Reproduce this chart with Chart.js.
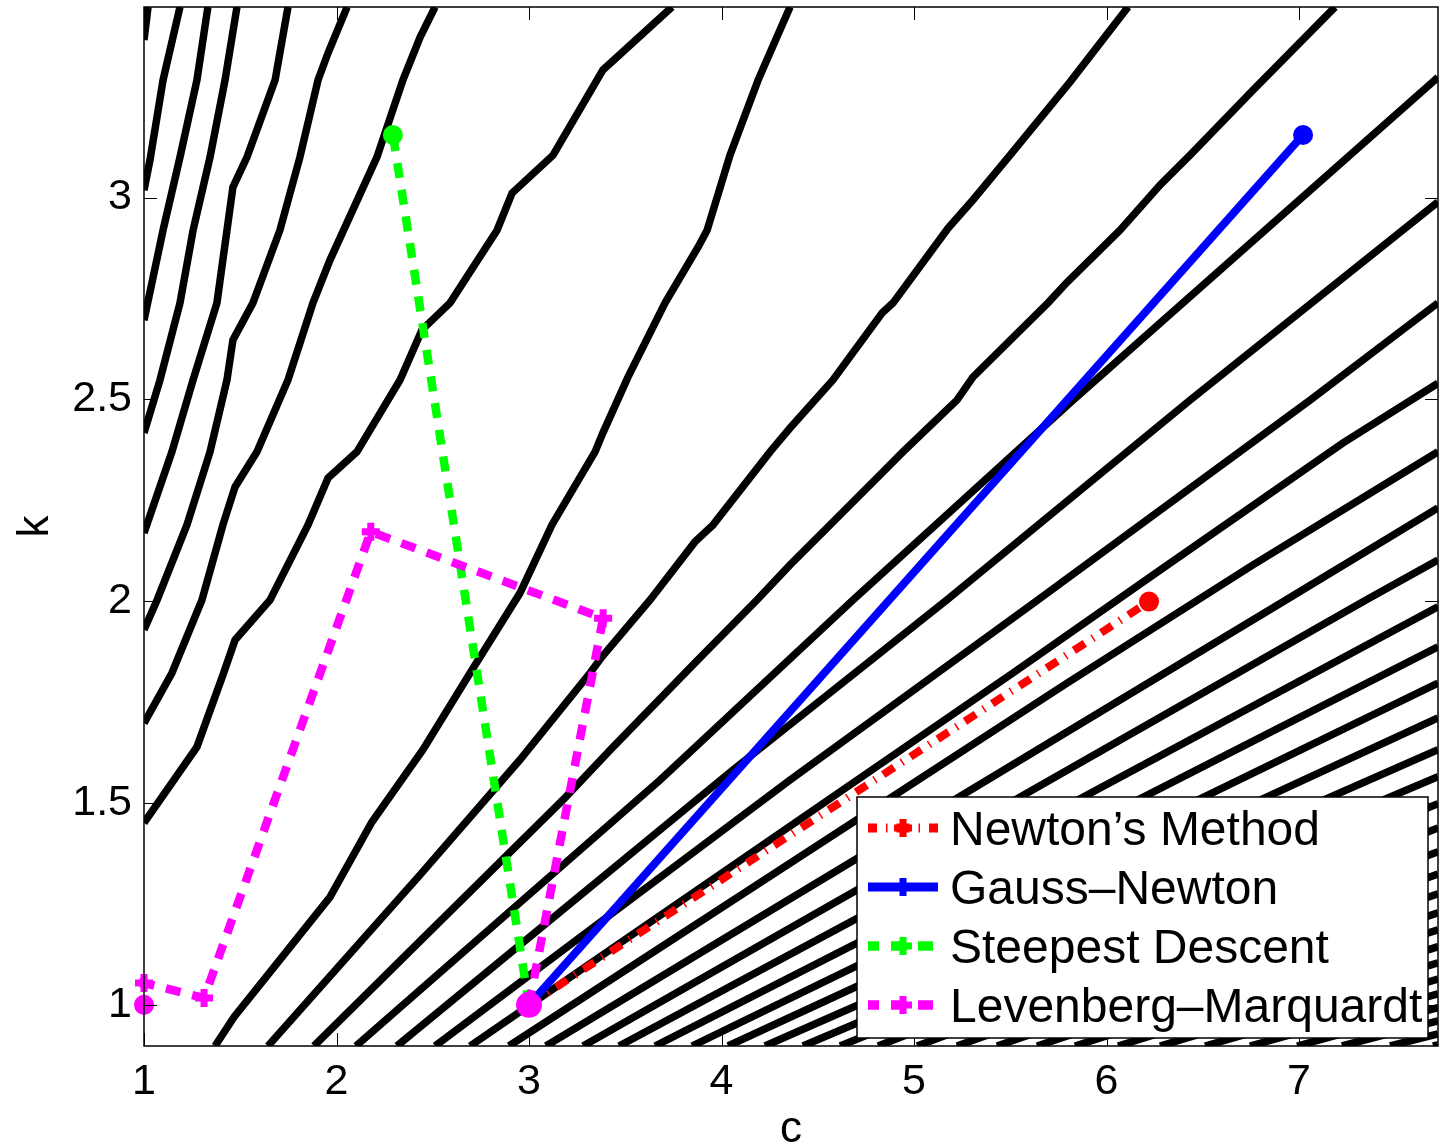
<!DOCTYPE html>
<html>
<head>
<meta charset="utf-8">
<title>Newton, Gauss-Newton, Steepest Descent and Levenberg-Marquardt paths</title>
<script src="https://cdn.jsdelivr.net/npm/chart.js@4.4.0/dist/chart.umd.min.js"></script>
<style>
  html, body { margin: 0; padding: 0; background: #fff; }
  #wrap { width: 1441px; height: 1146px; }
</style>
</head>
<body>
<div id="wrap"><canvas id="plot" width="1441" height="1146"></canvas></div>
<script>
// axis limits and tick values
const cRange = [1, 7.722];
const kRange = [0.898, 3.472];
const cTicks = [1, 2, 3, 4, 5, 6, 7];
const kTicks = [1, 1.5, 2, 2.5, 3];

// contour lines of the objective as [c, k]
const contourLines = [
  [[1.021, 3.472], [1.0, 3.390]],
  [[1.187, 3.472], [1.099, 3.291], [1.031, 3.093], [1.0, 3.018]],
  [[1.332, 3.472], [1.275, 3.291], [1.187, 3.100], [1.099, 2.919], [1.0, 2.696]],
  [[1.483, 3.472], [1.421, 3.291], [1.343, 3.100], [1.255, 2.919], [1.187, 2.739], [1.083, 2.548], [1.0, 2.417]],
  [[1.748, 3.472], [1.681, 3.291], [1.535, 3.100], [1.462, 3.026], [1.379, 2.739], [1.255, 2.548], [1.145, 2.370], [1.0, 2.169]],
  [[2.055, 3.472], [1.956, 3.358], [1.904, 3.291], [1.810, 3.100], [1.706, 2.919], [1.566, 2.739], [1.462, 2.647],
   [1.431, 2.548], [1.343, 2.370], [1.223, 2.189], [1.068, 2.003], [1.0, 1.929]],
  [[2.512, 3.472], [2.434, 3.397], [2.345, 3.291], [2.210, 3.100], [1.966, 2.845], [1.878, 2.739], [1.748, 2.548],
   [1.587, 2.370], [1.473, 2.283], [1.410, 2.189], [1.301, 2.003], [1.145, 1.822], [1.0, 1.698]],
  [[3.743, 3.472], [3.384, 3.316], [3.125, 3.105], [2.912, 3.011], [2.834, 2.919], [2.590, 2.739], [2.444, 2.672],
   [2.330, 2.548], [2.106, 2.370], [1.956, 2.305], [1.852, 2.189], [1.655, 2.003], [1.473, 1.904], [1.410, 1.817],
   [1.275, 1.639], [1.0, 1.451]],
  [[4.356, 3.472], [4.190, 3.291], [4.044, 3.105], [3.925, 2.919], [3.878, 2.877], [3.707, 2.739], [3.514, 2.555],
   [3.384, 2.417], [3.343, 2.370], [3.119, 2.189], [2.953, 2.020], [2.694, 1.822], [2.449, 1.632], [2.184, 1.453],
   [1.966, 1.267], [1.665, 1.087], [1.468, 0.970], [1.369, 0.898]],
  [[6.112, 3.472], [5.810, 3.286], [5.499, 3.105], [5.306, 2.994], [5.177, 2.924], [4.891, 2.739], [4.834, 2.714],
   [4.579, 2.548], [4.356, 2.429], [4.252, 2.370], [3.956, 2.189], [3.862, 2.147], [3.629, 2.003], [3.379, 1.862],
   [3.317, 1.822], [2.953, 1.607], [2.434, 1.322], [1.644, 0.898]],
  [[7.187, 3.472], [6.761, 3.266], [6.434, 3.105], [6.278, 3.031], [6.070, 2.919], [5.795, 2.790], [5.696, 2.739],
   [5.306, 2.555], [5.223, 2.498], [4.943, 2.370], [4.834, 2.318], [4.564, 2.189], [4.356, 2.090], [4.184, 2.003],
   [3.862, 1.847], [3.800, 1.817], [3.431, 1.636], [3.177, 1.508], [1.883, 0.898]],
  [[7.722, 3.298], [5.826, 2.498], [4.683, 2.003], [3.681, 1.557], [2.101, 0.898]],
  [[7.722, 2.989], [6.434, 2.498], [5.171, 2.003], [4.060, 1.582], [2.314, 0.898]],
  [[7.722, 2.739], [7.057, 2.498], [5.629, 1.998], [4.356, 1.557], [2.512, 0.898]],
  [[7.722, 2.540], [7.229, 2.392], [6.278, 2.077], [5.514, 1.822], [2.694, 0.898]],
  [[7.722, 2.370], [6.761, 2.090], [5.795, 1.797], [2.896, 0.898]],
  [[7.722, 2.231], [6.932, 2.003], [3.088, 0.898]],
  [[7.722, 2.102], [7.348, 2.003], [3.281, 0.898]],
  [[7.722, 1.986], [3.468, 0.898]],
  [[7.722, 1.887], [3.655, 0.898]],
  [[7.722, 1.797], [3.847, 0.898]],
  [[7.722, 1.711], [4.034, 0.898]],
  [[7.722, 1.632], [4.226, 0.898]],
  [[7.722, 1.565], [4.423, 0.898]],
  [[7.722, 1.498], [4.616, 0.898]],
  [[7.722, 1.438], [4.813, 0.898]],
  [[7.722, 1.379], [5.016, 0.898]],
  [[7.722, 1.324], [5.223, 0.898]],
  [[7.722, 1.275], [5.431, 0.898]],
  [[7.722, 1.228], [5.639, 0.898]],
  [[7.722, 1.186], [5.836, 0.898]],
  [[7.722, 1.144], [6.060, 0.898]],
  [[7.722, 1.104], [6.278, 0.898]],
  [[7.722, 1.064], [6.512, 0.898]],
  [[7.722, 1.027], [6.745, 0.898]],
  [[7.722, 0.993], [6.990, 0.898]],
  [[7.722, 0.960], [7.223, 0.898]],
  [[7.722, 0.928], [7.473, 0.898]],
  [[7.722, 0.901], [7.696, 0.898]]
];

// iterates of each method, all starting from (3, 1)
const startPoint = [[3.0, 1.0]];
const newtonPath = [[3.0, 1.0], [6.221, 1.999]];
const gaussNewtonPath = [[3.0, 1.0], [7.021, 3.155]];
const steepestPath = [[3.0, 1.0], [2.293, 3.155]];
const lmPath = [[3.0, 1.0], [3.385, 1.958], [2.178, 2.172], [1.312, 1.017], [1.0, 1.054], [1.0, 1.0]];

const methodNames = ['Newton’s Method', 'Gauss–Newton', 'Steepest Descent', 'Levenberg–Marquardt'];

const FONT = '"Liberation Sans", Arial, Helvetica, sans-serif';

function toXY(pts) {
  return pts.map(p => ({ x: p[0], y: p[1] }));
}

// markers: '+' at the iterates, filled circle at the last one, nothing at the start
function pathDataset(label, pts, color, dash, width) {
  const last = pts.length - 1;
  return {
    label: label,
    data: toXY(pts),
    showLine: true,
    borderColor: color,
    backgroundColor: color,
    borderWidth: width,
    borderDash: dash,
    borderCapStyle: 'butt',
    borderJoinStyle: 'miter',
    pointStyle: pts.map((p, i) => (i === last ? 'circle' : 'cross')),
    pointRadius: pts.map((p, i) => (i === 0 ? 0 : i === last ? 10 : 9)),
    pointBorderWidth: pts.map((p, i) => (i === last ? 0 : 7)),
    pointBorderColor: color,
    pointBackgroundColor: color,
    clip: false
  };
}

const datasets = [];

datasets.push({
  label: 'start',
  data: toXY(startPoint),
  showLine: false,
  pointStyle: 'circle',
  pointRadius: 13,
  pointBorderWidth: 0,
  pointBackgroundColor: '#ff00ff',
  clip: false
});
datasets.push(pathDataset(methodNames[3], lmPath, '#ff00ff', [15, 12], 8.5));
datasets.push(pathDataset(methodNames[2], steepestPath, '#00ff00', [15, 12], 8.5));
datasets.push(pathDataset(methodNames[1], gaussNewtonPath, '#0000ff', [], 8));
datasets.push(pathDataset(methodNames[0], newtonPath, '#ff0000', [13, 9, 1.5, 9], 8));

contourLines.forEach((line, i) => {
  datasets.push({
    label: 'contour ' + (i + 1),
    data: toXY(line),
    showLine: true,
    borderColor: '#000000',
    borderWidth: 7.5,
    borderCapStyle: 'butt',
    borderJoinStyle: 'miter',
    pointRadius: 0,
    clip: 0
  });
});

// box round the axes and inward tick marks on all four sides
const axesBox = {
  id: 'axesBox',
  afterDatasetsDraw(chart) {
    const { ctx, chartArea: a, scales } = chart;
    ctx.save();
    ctx.strokeStyle = '#000';
    ctx.lineWidth = 1;
    ctx.setLineDash([]);
    ctx.beginPath();
    scales.x.ticks.forEach(t => {
      const px = Math.round(scales.x.getPixelForValue(t.value)) + 0.5;
      ctx.moveTo(px, a.bottom);
      ctx.lineTo(px, a.bottom - 13);
      ctx.moveTo(px, a.top);
      ctx.lineTo(px, a.top + 13);
    });
    scales.y.ticks.forEach(t => {
      const py = Math.round(scales.y.getPixelForValue(t.value)) + 0.5;
      ctx.moveTo(a.left, py);
      ctx.lineTo(a.left + 13, py);
      ctx.moveTo(a.right, py);
      ctx.lineTo(a.right - 13, py);
    });
    ctx.stroke();
    ctx.lineWidth = 1.5;
    ctx.strokeRect(a.left, a.top, a.right - a.left, a.bottom - a.top);
    ctx.restore();
  }
};

// legend box in the lower right corner, like the original
const pathLegend = {
  id: 'pathLegend',
  afterDraw(chart) {
    const ctx = chart.ctx;
    const box = { left: 857, top: 797, right: 1428, bottom: 1038 };
    const rows = [828, 887, 946, 1005];
    ctx.save();
    ctx.fillStyle = '#fff';
    ctx.fillRect(box.left, box.top, box.right - box.left, box.bottom - box.top);
    ctx.strokeStyle = '#000';
    ctx.lineWidth = 1.5;
    ctx.setLineDash([]);
    ctx.strokeRect(box.left, box.top, box.right - box.left, box.bottom - box.top);

    methodNames.forEach((name, i) => {
      const ds = chart.data.datasets.find(d => d.label === name);
      const y = rows[i];
      ctx.strokeStyle = ds.borderColor;
      ctx.lineWidth = ds.borderWidth + 1;
      ctx.lineCap = 'butt';
      ctx.setLineDash(ds.borderDash);
      ctx.lineDashOffset = ds.borderDash.length ? 4 : 0;
      ctx.beginPath();
      ctx.moveTo(868, y);
      ctx.lineTo(938, y);
      ctx.stroke();
      // plus marker
      ctx.setLineDash([]);
      ctx.lineWidth = 7;
      ctx.beginPath();
      ctx.moveTo(894, y);
      ctx.lineTo(912, y);
      ctx.moveTo(903, y - 9);
      ctx.lineTo(903, y + 9);
      ctx.stroke();

      ctx.fillStyle = '#000';
      ctx.font = '48px ' + FONT;
      ctx.textAlign = 'left';
      ctx.textBaseline = 'alphabetic';
      ctx.fillText(name, 950, y + 17);
    });
    ctx.restore();
  }
};

// keep the plot box fixed: no extra room for the end tick labels
function noLabelPadding(scale) {
  scale.paddingTop = 0;
  scale.paddingBottom = 0;
  scale.paddingLeft = 0;
  scale.paddingRight = 0;
}

const tickFont = { family: FONT, size: 43 };

new Chart(document.getElementById('plot'), {
  type: 'scatter',
  data: { datasets: datasets },
  options: {
    responsive: false,
    devicePixelRatio: 1,
    animation: false,
    events: [],
    layout: { autoPadding: false, padding: { left: 0, right: 3, top: 7, bottom: 0 } },
    plugins: {
      legend: { display: false },
      tooltip: { enabled: false }
    },
    scales: {
      x: {
        type: 'linear',
        min: cRange[0],
        max: cRange[1],
        afterBuildTicks: scale => { scale.ticks = cTicks.map(v => ({ value: v })); },
        afterFit: scale => { scale.height = 100; noLabelPadding(scale); },
        grid: { display: false, drawTicks: false },
        border: { display: false },
        ticks: { font: tickFont, color: '#000', padding: 10, maxRotation: 0, autoSkip: false, callback: v => String(v) },
        title: { display: true, text: 'c', color: '#000', font: { family: FONT, size: 44, lineHeight: 1 }, padding: { top: 0, bottom: -6 } }
      },
      y: {
        type: 'linear',
        min: kRange[0],
        max: kRange[1],
        afterBuildTicks: scale => { scale.ticks = kTicks.map(v => ({ value: v })); },
        afterFit: scale => { scale.width = 144; noLabelPadding(scale); },
        grid: { display: false, drawTicks: false },
        border: { display: false },
        ticks: { font: tickFont, color: '#000', padding: 12, autoSkip: false, callback: v => String(v) },
        title: { display: true, text: 'k', color: '#000', font: { family: FONT, size: 44, lineHeight: 1 }, padding: { top: 14, bottom: 0 } }
      }
    }
  },
  plugins: [axesBox, pathLegend]
});
</script>
</body>
</html>
